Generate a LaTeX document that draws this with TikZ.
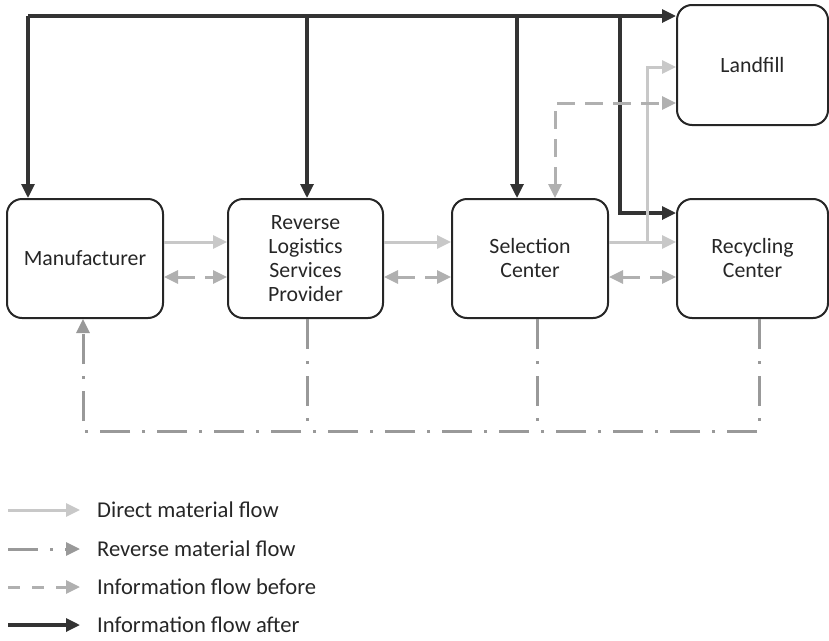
\documentclass[tikz,border=0pt]{standalone}
\usepackage{fontspec}
\setmainfont{Carlito}
\usetikzlibrary{arrows.meta}
\definecolor{boxline}{HTML}{262626}
\definecolor{infoafter}{HTML}{333333}
\definecolor{directc}{HTML}{C8C8C8}
\definecolor{infobef}{HTML}{B0B0B0}
\definecolor{revc}{HTML}{999999}
\definecolor{txt}{HTML}{262626}
\tikzset{
  box/.style={draw=boxline, line width=2pt, rounded corners=15pt, align=center,
    text=txt, font=\fontsize{21.8}{24}\selectfont, inner sep=0pt},
  tip/.style={-{Triangle[length=14pt,width=13pt]}},
  after/.style={draw=infoafter, line width=3.2pt, tip},
  direct/.style={draw=directc, line width=3pt, tip},
  infob/.style={draw=infobef, line width=3pt, dash pattern=on 18pt off 10pt,
    {Triangle[length=14pt,width=13pt]}-{Triangle[length=14pt,width=13pt]}},
  rev/.style={draw=revc, line width=3pt, dash pattern=on 30pt off 12pt on 3pt off 12pt},
  legtext/.style={anchor=west, text=txt, font=\fontsize{22.6}{26}\selectfont, inner sep=0pt}
}
\begin{document}
\begin{tikzpicture}[x=1pt,y=-1pt]
\useasboundingbox (0,0) rectangle (829,640);
% boxes
\node[box, minimum width=156pt, minimum height=119pt] (man) at (85,258.5) {Manufacturer};
\node[box, minimum width=155pt, minimum height=119pt] (rl) at (305.5,258.5) {Reverse\\Logistics\\Services\\Provider};
\node[box, minimum width=156pt, minimum height=119pt] (sel) at (530,258.5) {Selection\\Center};
\node[box, minimum width=151pt, minimum height=119pt] (rec) at (752.5,258.5) {Recycling\\Center};
\node[box, minimum width=151pt, minimum height=120pt] (land) at (752.5,65) {Landfill};
% helper coordinates
\coordinate (top) at (28,16);
\coordinate (yD) at (0,242);
\coordinate (yI) at (0,277);
\coordinate (yR) at (0,431);
\coordinate (xR) at (83,0);
\coordinate (bend) at (620,213);
\coordinate (branch) at (647,242);
\coordinate (yLD) at (0,67);
\coordinate (yLI) at (0,103);
% information flow after
\draw[after] (top) -- (land.west |- top);
\draw[after] (top) -- (top |- man.north);
\draw[after] (307,16) -- (307,16 |- rl.north);
\draw[after] (517,16) -- (517,16 |- sel.north);
\draw[after] (620,16) -- (bend) -- (rec.west |- bend);
% direct material flow
\draw[direct] (man.east |- yD) -- (rl.west |- yD);
\draw[direct] (rl.east |- yD) -- (sel.west |- yD);
\draw[direct] (sel.east |- yD) -- (rec.west |- yD);
\draw[direct] (branch) |- (land.west |- yLD);
% information flow before
\draw[infob] (man.east |- yI) -- (rl.west |- yI);
\draw[infob] (rl.east |- yI) -- (sel.west |- yI);
\draw[infob] (sel.east |- yI) -- (rec.west |- yI);
\draw[infob] (555,0 |- sel.north) |- (land.west |- yLI);
% reverse material flow
\draw[rev] (307,0 |- rl.south) -- (307,0 |- yR);
\draw[rev] (537,0 |- sel.south) -- (537,0 |- yR);
\draw[rev, tip] (759,0 |- rec.south) -- (759,0 |- yR) -- (xR |- yR) -- (xR |- man.south);
% legend
\coordinate (l1a) at (8,510); \coordinate (l1b) at (80,510);
\coordinate (l2a) at (8,549); \coordinate (l2b) at (80,549);
\coordinate (l3a) at (8,587); \coordinate (l3b) at (80,587);
\coordinate (l4a) at (8,625); \coordinate (l4b) at (80,625);
\draw[direct] (l1a) -- (l1b);
\draw[draw=revc, line width=3pt, dash pattern=on 30pt off 12pt on 3pt off 12pt, tip] (l2a) -- (l2b);
\draw[draw=infobef, line width=3pt, dash pattern=on 12pt off 12pt, tip] (l3a) -- (l3b);
\draw[after] (l4a) -- (l4b);
\node[legtext] (t1) at (97,510) {Direct material flow};
\node[legtext] (t2) at (97,549) {Reverse material flow};
\node[legtext] (t3) at (97,587) {Information flow before};
\node[legtext] (t4) at (97,625) {Information flow after};
\end{tikzpicture}
\end{document}
